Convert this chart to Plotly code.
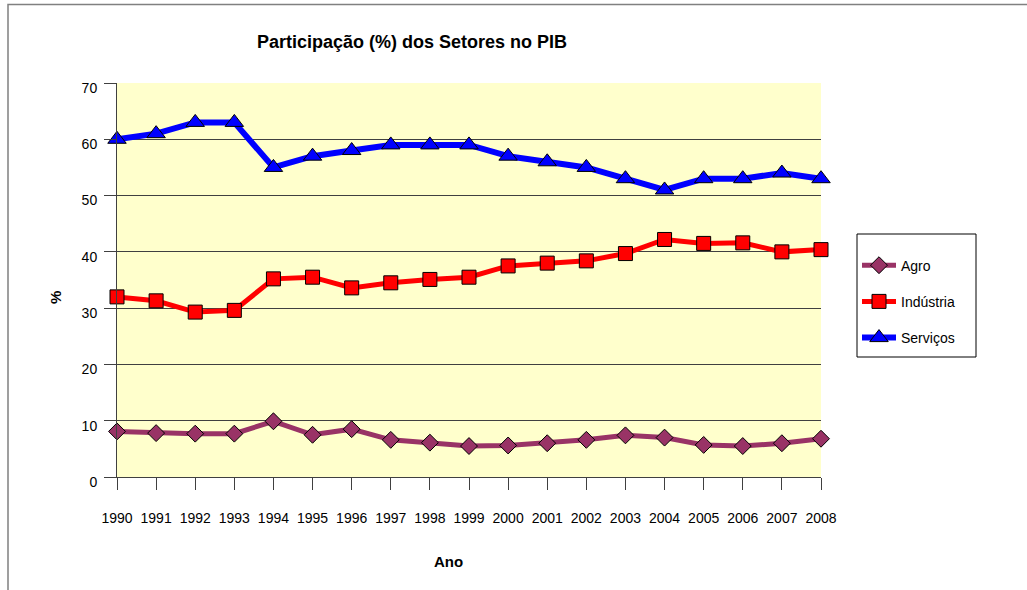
import plotly.graph_objects as go

anos = list(range(1990, 2009))
agro = [8.1, 7.8, 7.7, 7.7, 9.9, 7.5, 8.5, 6.6, 6.1, 5.5, 5.6, 6.0, 6.6, 7.4, 7.0, 5.7, 5.5, 6.0, 6.8]
industria = [32.0, 31.3, 29.3, 29.6, 35.2, 35.5, 33.6, 34.5, 35.1, 35.5, 37.5, 38.0, 38.4, 39.7, 42.2, 41.5, 41.6, 40.0, 40.4]
servicos = [60, 61, 63, 63, 55, 57, 58, 59, 59, 59, 57, 56, 55, 53, 51, 53, 53, 54, 53]
series_nomes = ["Agro", "Indústria", "Serviços"]
y_ticks = [0, 10, 20, 30, 40, 50, 60, 70]

FONT = "Liberation Sans, Arial, sans-serif"
W, H = 1027, 590
L, R, T, B = 117, 821, 83, 477

def px(x):
    return (x - L) / (R - L)

def py(y):
    return (B - y) / (B - T)

fig = go.Figure()
styles = [
    dict(color="#993366", width=5, symbol="diamond", size=13),
    dict(color="#FF0000", width=5, symbol="square", size=14),
    dict(color="#0000FF", width=6, symbol="triangle-up", size=16),
]
for nome, vals, st in zip(series_nomes, [agro, industria, servicos], styles):
    fig.add_trace(go.Scatter(
        x=anos, y=vals, name=nome, mode="lines+markers",
        line=dict(color=st["color"], width=st["width"]),
        marker=dict(symbol=st["symbol"], size=st["size"], color=st["color"],
                    line=dict(color="#000000", width=1)),
        legendgroup=nome, cliponaxis=False,
    ))

fig.update_layout(
    width=W, height=H,
    margin=dict(l=L, r=W - R, t=T, b=H - B),
    paper_bgcolor="#FFFFFF",
    plot_bgcolor="#FFFFCC",
    font=dict(family=FONT, size=14, color="#000000"),
    title=dict(text="<b>Participação (%) dos Setores no PIB</b>",
               x=412 / W, xanchor="center", y=1 - 42 / H, yanchor="middle",
               font=dict(family=FONT, size=18, color="#000000")),
    showlegend=True,
    legend=dict(x=px(857), y=py(234), xanchor="left", yanchor="top",
                borderwidth=0, bgcolor="rgba(0,0,0,0)",
                font=dict(family=FONT, size=14, color="#000000"),
                title=dict(text=" ", font=dict(size=12)),
                traceorder="grouped", tracegroupgap=15,
                itemwidth=34),
    xaxis=dict(range=[1990, 2008], tickvals=anos, ticktext=[str(a) for a in anos],
               showgrid=False, zeroline=False, showline=True, linecolor="#404040",
               linewidth=1, ticks="outside", ticklen=12, tickcolor="#404040",
               tickfont=dict(family=FONT, size=14), ticklabelstandoff=16,
               fixedrange=True),
    yaxis=dict(range=[0, 70], tickvals=y_ticks, showgrid=True, gridcolor="#404040",
               gridwidth=1, zeroline=False, showline=True, linecolor="#404040",
               linewidth=1, ticks="outside", ticklen=12, tickcolor="#404040",
               tickfont=dict(family=FONT, size=14), ticklabelstandoff=4,
               ticklabelshift=5, fixedrange=True),
    annotations=[
        dict(text="<b>%</b>", x=px(55), y=py(298), xref="paper", yref="paper",
             xanchor="center", yanchor="middle",
             showarrow=False, textangle=-90, font=dict(family=FONT, size=15)),
        dict(text="<b>Ano</b>", x=px(448), y=py(561), xref="paper", yref="paper",
             xanchor="center", yanchor="middle",
             showarrow=False, font=dict(family=FONT, size=15)),
    ],
    shapes=[
        dict(type="rect", xref="paper", yref="paper",
             x0=px(8), x1=px(1040), y0=py(600), y1=py(4.5),
             line=dict(color="#808080", width=1.5), layer="below"),
        dict(type="rect", xref="paper", yref="paper",
             x0=px(857), x1=px(976), y0=py(357), y1=py(234),
             line=dict(color="#000000", width=1), fillcolor="#FFFFFF", layer="below"),
    ],
)

fig.write_html("out.html", config={"displayModeBar": False},
               post_script="document.body.style.margin='0';document.body.style.padding='0';")
